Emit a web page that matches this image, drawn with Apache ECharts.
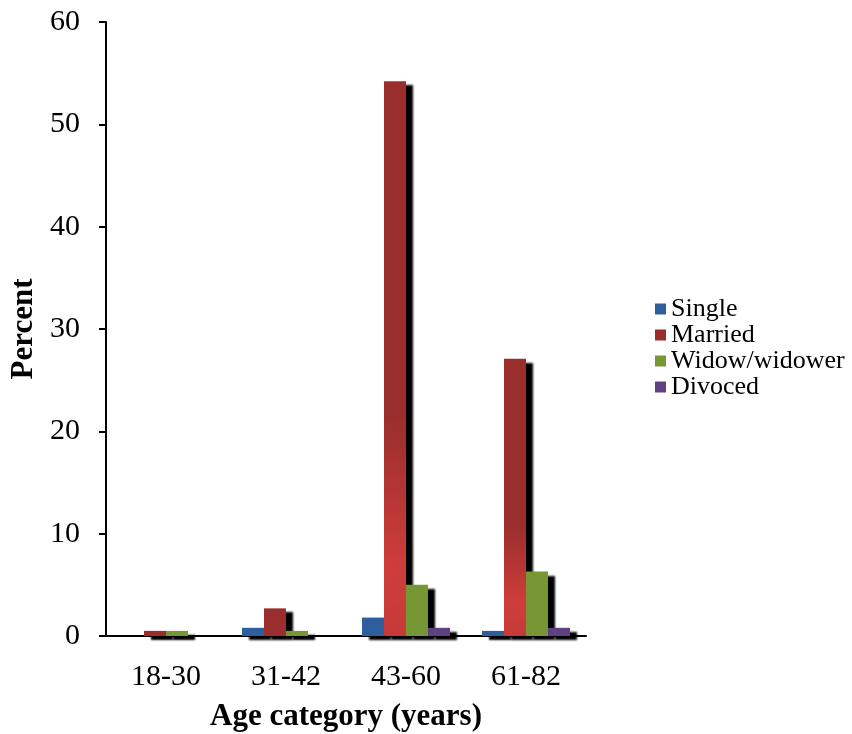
<!DOCTYPE html>
<html><head><meta charset="utf-8">
<script src="https://cdn.jsdelivr.net/npm/echarts@6/dist/echarts.min.js"></script>
<style>html,body{margin:0;padding:0;background:#fff}#c{width:852px;height:734px}</style>
</head><body><div id="c"></div>
<script>
var categories = ['18-30', '31-42', '43-60', '61-82'];
var single = [0, 0.8, 1.8, 0.5];
var married = [0.5, 2.7, 54.2, 27.1];
var widow = [0.5, 0.5, 5.0, 6.3];
var divoced = [0, 0, 0.8, 0.8];
var seriesNames = ['Single', 'Married', 'Widow/widower', 'Divoced'];
var colors = ['#2c5f9b', '#9a2e2c', '#779634', '#5f4182'];

var font = 'Liberation Serif';
var marriedGrad = {
  type: 'linear', x: 0, y: 0, x2: 0, y2: 1,
  colorStops: [
    {offset: 0, color: '#9a2e2c'},
    {offset: 0.6, color: '#9a2e2c'},
    {offset: 0.88, color: '#cf3d3b'},
    {offset: 1, color: '#c53a38'}
  ]
};
function mk(name, vals, color, grad) {
  return {
    name: name, type: 'bar', barGap: '0%', barCategoryGap: '26.7%',
    data: vals.map(function (v) {
      var d = {value: v};
      if (grad && v > 10) d.itemStyle = {color: grad};
      return d;
    }),
    itemStyle: {color: color, shadowColor: 'rgba(0,0,0,1)', shadowBlur: 2, shadowOffsetX: 7, shadowOffsetY: 4},
    emphasis: {disabled: true}
  };
}
var chart = echarts.init(document.getElementById('c'), null, {renderer: 'canvas'});
chart.setOption({
  animation: false,
  backgroundColor: '#fff',
  grid: {left: 106, right: 266, top: 22, bottom: 98, containLabel: false, outerBoundsMode: 'none'},
  legend: {
    orient: 'vertical', left: 650, top: 291, itemWidth: 11, itemHeight: 11, itemGap: 0,
    icon: 'rect',
    textStyle: {fontFamily: font, fontSize: 26, lineHeight: 25.5, color: '#000'},
    data: seriesNames
  },
  xAxis: {
    type: 'category', data: categories,
    axisLine: {lineStyle: {color: '#000', width: 2}},
    axisTick: {show: false},
    axisLabel: {fontFamily: font, fontSize: 30, color: '#000', margin: 26},
    name: 'Age category (years)', nameLocation: 'middle', nameGap: 65,
    nameTextStyle: {fontFamily: font, fontSize: 31, fontWeight: 'bold', color: '#000'}
  },
  yAxis: {
    type: 'value', min: 0, max: 60, interval: 10,
    axisLine: {show: true, lineStyle: {color: '#000', width: 2}},
    axisTick: {show: true, length: 7, lineStyle: {color: '#000', width: 2}},
    splitLine: {show: false},
    axisLabel: {fontFamily: font, fontSize: 30, color: '#000', margin: 26},
    name: 'Percent', nameLocation: 'middle', nameGap: 65,
    nameTextStyle: {fontFamily: font, fontSize: 31, fontWeight: 'bold', color: '#000'}
  },
  series: [
    mk(seriesNames[0], single, colors[0]),
    mk(seriesNames[1], married, colors[1], marriedGrad),
    mk(seriesNames[2], widow, colors[2]),
    mk(seriesNames[3], divoced, colors[3])
  ]
});
</script></body></html>
